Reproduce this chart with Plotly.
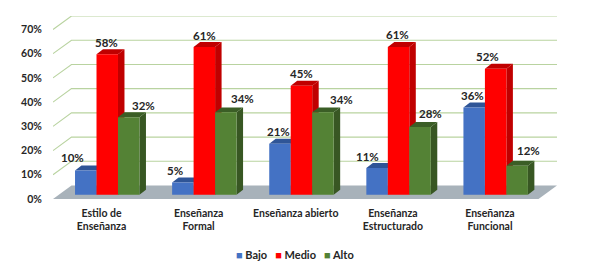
import plotly.graph_objects as go

categories = ["Estilo de<br>Enseñanza", "Enseñanza<br>Formal", "Enseñanza abierto",
              "Enseñanza<br>Estructurado", "Enseñanza<br>Funcional"]
bajo = [10, 5, 21, 11, 36]
medio = [58, 61, 45, 61, 52]
alto = [32, 34, 34, 28, 12]
y_ticks = [0, 10, 20, 30, 40, 50, 60, 70]
y_labels = ["0%", "10%", "20%", "30%", "40%", "50%", "60%", "70%"]

# label nudges in screen pixels (dx, dy above the bar's front top edge)
nudge_bajo = [(-13, 13), (-8, 12), (-1, 12), (-10, 12), (-2, 12)]
nudge_medio = [(-1, 12), (0, 11), (0, 12), (-1, 12), (-8, 12)]
nudge_alto = [(15, 12), (17, 14), (19, 13), (10, 13), (11, 15)]

W, H = 589, 273
L, R, T, B = 53, 31.5, 16, 73.5
PX_X = 97.2            # px per category
PX_Y = 2.43            # px per percentage point
FLOOR_DX = 18.5 / PX_X
FLOOR_DY = 13.5 / PX_Y
BAR_W = 21.5 / PX_X
BAR_DX = 6.5 / PX_X
BAR_DY = 5.0 / PX_Y
BASE_DX = 5.7 / PX_X
BASE_DY = 4.3 / PX_Y
FONT = "Lato"
INK = "#262626"

series = [
    ("Bajo", bajo, -1, "#4472C4", "#2F5597", "#2F5597", nudge_bajo),
    ("Medio", medio, 0, "#FF0000", "#C00000", "#C00000", nudge_medio),
    ("Alto", alto, 1, "#548235", "#385723", "#3B5E26", nudge_alto),
]


def poly_trace(polys, color, name):
    xs, ys = [], []
    for p in polys:
        xs += [c[0] for c in p] + [p[0][0], None]
        ys += [c[1] for c in p] + [p[0][1], None]
    return go.Scatter(x=xs, y=ys, mode="lines", fill="toself", fillcolor=color,
                      line=dict(width=0, color=color), name=name, showlegend=False,
                      hoverinfo="skip")


fig = go.Figure()
n = len(categories)
x0, x1 = -0.5, n - 0.5

# floor
fig.add_trace(poly_trace([[(x0, 0), (x1, 0), (x1 + FLOOR_DX, FLOOR_DY), (x0 + FLOOR_DX, FLOOR_DY)]],
                         "#A8B2BA", "floor"))

# wall gridlines with the slanted left side
gx, gy = [], []
for t in y_ticks[1:]:
    gx += [x0, x0 + FLOOR_DX, x1 + FLOOR_DX, None]
    gy += [t, t + FLOOR_DY, t + FLOOR_DY, None]
fig.add_trace(go.Scatter(x=gx, y=gy, mode="lines", line=dict(color="#B9D3A0", width=1.1),
                         showlegend=False, hoverinfo="skip", name="grid", cliponaxis=False))

annotations = []
for name, vals, off, front, side, top, nudge in series:
    tops, sides, fronts = [], [], []
    for i, v in enumerate(vals):
        a = i + BASE_DX + (off - 0.5) * BAR_W
        b = a + BAR_W
        y0 = BASE_DY
        y1 = v + BASE_DY
        fronts.append([(a, y0), (b, y0), (b, y1), (a, y1)])
        sides.append([(b, y0), (b + BAR_DX, y0 + BAR_DY), (b + BAR_DX, y1 + BAR_DY), (b, y1)])
        tops.append([(a, y1), (b, y1), (b + BAR_DX, y1 + BAR_DY), (a + BAR_DX, y1 + BAR_DY)])
        annotations.append(dict(
            x=(a + b) / 2, y=y1, xref="x", yref="y", text=f"{v}%", showarrow=False,
            xanchor="center", yanchor="middle", xshift=nudge[i][0], yshift=nudge[i][1],
            font=dict(family=FONT, size=11.5, color=INK, weight="bold")))
    fig.add_trace(poly_trace(sides, side, name + " lateral"))
    fig.add_trace(poly_trace(tops, top, name + " superior"))
    fig.add_trace(poly_trace(fronts, front, name))

legend_text = "&nbsp;&nbsp;&nbsp;".join(
    f"<span style='color:{s[3]}'>■</span> {s[0]}" for s in series)
annotations.append(dict(
    xref="paper", yref="paper", x=(295.5 - L) / (W - L - R), y=(H - B - 255.5) / (H - T - B),
    text=legend_text, showarrow=False, xanchor="center", yanchor="middle",
    font=dict(family=FONT, size=11, color=INK, weight="bold")))

fig.update_layout(
    width=W, height=H, autosize=False, margin=dict(l=L, r=R, t=T, b=B, pad=0),
    paper_bgcolor="white", plot_bgcolor="white", showlegend=False,
    annotations=annotations,
    xaxis=dict(range=[x0, x1 + FLOOR_DX], tickvals=list(range(n)), ticktext=categories,
               showgrid=False, zeroline=False, showline=False, ticks="outside",
               ticklen=4, tickcolor="rgba(0,0,0,0)", fixedrange=True,
               tickfont=dict(family=FONT, size=10.5, color=INK, weight="bold")),
    yaxis=dict(range=[0, 70 + FLOOR_DY], tickvals=y_ticks, ticktext=y_labels,
               showgrid=False, zeroline=False, showline=False, ticks="outside",
               ticklen=8, tickcolor="rgba(0,0,0,0)", fixedrange=True,
               tickfont=dict(family=FONT, size=10.5, color=INK, weight="bold")),
)
fig.write_html("out.html", config=dict(displayModeBar=False),
               post_script="document.body.style.margin='0';")
